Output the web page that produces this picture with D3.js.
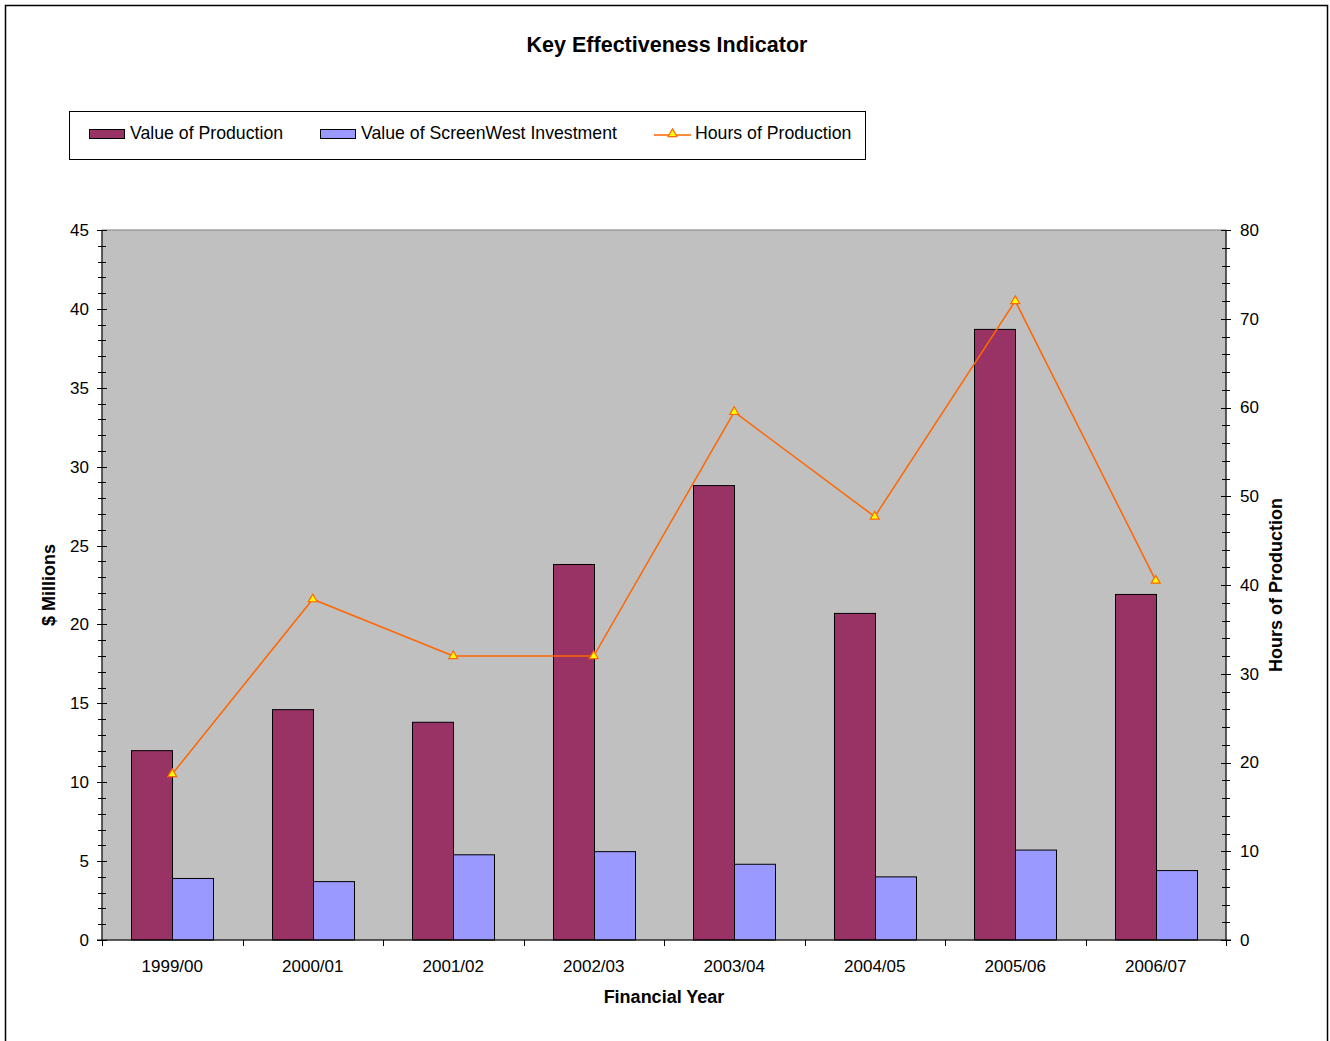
<!DOCTYPE html>
<html>
<head>
<meta charset="utf-8">
<script src="https://cdn.jsdelivr.net/npm/d3@7"></script>
<style>
  body { margin: 0; background: #fff; }
  text { font-family: "Liberation Sans", Arial, sans-serif; fill: #000; }
</style>
</head>
<body>
<svg id="chart" width="1330" height="1041"></svg>
<script>
var years = ['1999/00', '2000/01', '2001/02', '2002/03', '2003/04', '2004/05', '2005/06', '2006/07'];
var productionValue = [12.0, 14.6, 13.8, 23.8, 28.8, 20.7, 38.7, 21.9];
var screenwestInvestment = [3.9, 3.7, 5.4, 5.6, 4.8, 4.0, 5.7, 4.4];
var productionHours = [18.7, 38.4, 32.0, 32.0, 59.5, 47.7, 72.0, 40.5];
var leftTicks = d3.range(0, 46, 5);
var rightTicks = d3.range(0, 81, 10);

var svg = d3.select('#chart');
var plot = { left: 102, right: 1226, top: 230, bottom: 940 };

var colors = {
  production: '#993366',
  investment: '#9999FF',
  hours: '#FF6600',
  marker: '#FFFF00'
};

// outer frame
svg.append('rect')
  .attr('x', 5.5).attr('y', 5.5)
  .attr('width', 1322).attr('height', 1045)
  .attr('fill', 'none').attr('stroke', '#000').attr('stroke-width', 1.5);

svg.append('text')
  .attr('x', 667).attr('y', 52)
  .attr('text-anchor', 'middle')
  .style('font-size', '21.5px').style('font-weight', 'bold')
  .text('Key Effectiveness Indicator');

var x = d3.scaleBand().domain(years).range([plot.left, plot.right]);
var barWidth = 41;
var yLeft = d3.scaleLinear().domain([0, 45]).range([plot.bottom, plot.top]);
var yRight = d3.scaleLinear().domain([0, 80]).range([plot.bottom, plot.top]);

svg.append('rect')
  .attr('x', plot.left).attr('y', plot.top)
  .attr('width', plot.right - plot.left).attr('height', plot.bottom - plot.top)
  .attr('fill', '#C0C0C0').attr('stroke', '#808080');

function center(d) {
  return x(d) + x.bandwidth() / 2;
}

// bars
var bars = svg.append('g');
bars.selectAll('rect.prod')
  .data(years)
  .enter()
  .append('rect')
  .attr('class', 'prod')
  .attr('x', function(d) { return Math.round(center(d)) - barWidth + 0.5; })
  .attr('y', function(d, i) { return yLeft(productionValue[i]); })
  .attr('width', barWidth)
  .attr('height', function(d, i) { return yLeft(0) - yLeft(productionValue[i]); })
  .attr('fill', colors.production).attr('stroke', '#000');

bars.selectAll('rect.inv')
  .data(years)
  .enter()
  .append('rect')
  .attr('class', 'inv')
  .attr('x', function(d) { return Math.round(center(d)) + 0.5; })
  .attr('y', function(d, i) { return yLeft(screenwestInvestment[i]); })
  .attr('width', barWidth)
  .attr('height', function(d, i) { return yLeft(0) - yLeft(screenwestInvestment[i]); })
  .attr('fill', colors.investment).attr('stroke', '#000');

// hours line
var line = d3.line()
  .x(function(d, i) { return center(years[i]); })
  .y(function(d) { return yRight(d); });

svg.append('path')
  .datum(productionHours)
  .attr('d', line)
  .attr('fill', 'none').attr('stroke', colors.hours).attr('stroke-width', 1.5);

var tri = d3.symbol().type(d3.symbolTriangle).size(34);
svg.selectAll('path.marker')
  .data(productionHours)
  .enter()
  .append('path')
  .attr('class', 'marker')
  .attr('d', tri)
  .attr('transform', function(d, i) {
    return 'translate(' + center(years[i]) + ',' + yRight(d) + ')';
  })
  .attr('fill', colors.marker).attr('stroke', colors.hours).attr('stroke-width', 1.2);

// left axis
var leftAxis = svg.append('g').attr('transform', 'translate(' + plot.left + ',0)');
leftAxis.append('line')
  .attr('y1', plot.top).attr('y2', plot.bottom).attr('stroke', '#000');
leftAxis.selectAll('line.minor')
  .data(d3.range(0, 46, 1))
  .enter()
  .append('line')
  .attr('x1', -4).attr('x2', 4)
  .attr('y1', function(d) { return Math.round(yLeft(d)) + 0.5; })
  .attr('y2', function(d) { return Math.round(yLeft(d)) + 0.5; })
  .attr('stroke', '#000');
leftAxis.selectAll('line.major')
  .data(leftTicks)
  .enter()
  .append('line')
  .attr('x1', -5).attr('x2', 5)
  .attr('y1', function(d) { return Math.round(yLeft(d)) + 0.5; })
  .attr('y2', function(d) { return Math.round(yLeft(d)) + 0.5; })
  .attr('stroke', '#000');
leftAxis.selectAll('text')
  .data(leftTicks)
  .enter()
  .append('text')
  .attr('x', -13)
  .attr('y', function(d) { return yLeft(d); })
  .attr('dy', '0.35em')
  .attr('text-anchor', 'end')
  .style('font-size', '17px')
  .text(function(d) { return d; });

// right axis
var rightAxis = svg.append('g').attr('transform', 'translate(' + plot.right + ',0)');
rightAxis.append('line')
  .attr('y1', plot.top).attr('y2', plot.bottom).attr('stroke', '#000');
rightAxis.selectAll('line.minor')
  .data(d3.range(0, 81, 2))
  .enter()
  .append('line')
  .attr('x1', -4).attr('x2', 4)
  .attr('y1', function(d) { return Math.round(yRight(d)) + 0.5; })
  .attr('y2', function(d) { return Math.round(yRight(d)) + 0.5; })
  .attr('stroke', '#000');
rightAxis.selectAll('line.major')
  .data(rightTicks)
  .enter()
  .append('line')
  .attr('x1', -5).attr('x2', 5)
  .attr('y1', function(d) { return Math.round(yRight(d)) + 0.5; })
  .attr('y2', function(d) { return Math.round(yRight(d)) + 0.5; })
  .attr('stroke', '#000');
rightAxis.selectAll('text')
  .data(rightTicks)
  .enter()
  .append('text')
  .attr('x', 14)
  .attr('y', function(d) { return yRight(d); })
  .attr('dy', '0.35em')
  .style('font-size', '17px')
  .text(function(d) { return d; });

// category axis
var bottomAxis = svg.append('g').attr('transform', 'translate(0,' + plot.bottom + ')');
bottomAxis.append('line')
  .attr('x1', plot.left - 5).attr('x2', plot.right + 5).attr('stroke', '#000');
bottomAxis.selectAll('line.cat')
  .data(years.concat(['end']))
  .enter()
  .append('line')
  .attr('x1', function(d, i) { return Math.round(plot.left + i * x.bandwidth()) + 0.5; })
  .attr('x2', function(d, i) { return Math.round(plot.left + i * x.bandwidth()) + 0.5; })
  .attr('y1', 0).attr('y2', 6)
  .attr('stroke', '#000');
bottomAxis.selectAll('text')
  .data(years)
  .enter()
  .append('text')
  .attr('x', center)
  .attr('y', 32)
  .attr('text-anchor', 'middle')
  .style('font-size', '17px')
  .text(function(d) { return d; });

// axis titles
svg.append('text')
  .attr('x', (plot.left + plot.right) / 2).attr('y', 1003)
  .attr('text-anchor', 'middle')
  .style('font-size', '18px').style('font-weight', 'bold')
  .text('Financial Year');

svg.append('text')
  .attr('transform', 'translate(55,' + (plot.top + plot.bottom) / 2 + ') rotate(-90)')
  .attr('text-anchor', 'middle')
  .style('font-size', '18px').style('font-weight', 'bold')
  .text('$ Millions');

svg.append('text')
  .attr('transform', 'translate(1282,' + (plot.top + plot.bottom) / 2 + ') rotate(-90)')
  .attr('text-anchor', 'middle')
  .style('font-size', '18px').style('font-weight', 'bold')
  .text('Hours of Production');

// legend
var legend = svg.append('g');
legend.append('rect')
  .attr('x', 69.5).attr('y', 111.5).attr('width', 796).attr('height', 48)
  .attr('fill', '#fff').attr('stroke', '#000');

var legendItems = [
  { label: 'Value of Production', x: 89, kind: 'bar', color: colors.production },
  { label: 'Value of ScreenWest Investment', x: 320, kind: 'bar', color: colors.investment },
  { label: 'Hours of Production', x: 654, kind: 'line', color: colors.hours }
];

legendItems.forEach(function(item) {
  if (item.kind === 'bar') {
    legend.append('rect')
      .attr('x', item.x + 0.5).attr('y', 129.5).attr('width', 35).attr('height', 9)
      .attr('fill', item.color).attr('stroke', '#000');
  } else {
    legend.append('line')
      .attr('x1', item.x).attr('x2', item.x + 37)
      .attr('y1', 135).attr('y2', 135)
      .attr('stroke', item.color).attr('stroke-width', 1.5);
    legend.append('path')
      .attr('d', tri)
      .attr('transform', 'translate(' + (item.x + 18.5) + ',134)')
      .attr('fill', colors.marker).attr('stroke', colors.hours).attr('stroke-width', 1.2);
  }
  legend.append('text')
    .attr('x', item.x + 41).attr('y', 139)
    .style('font-size', '17.7px')
    .text(item.label);
});
</script>
</body>
</html>
